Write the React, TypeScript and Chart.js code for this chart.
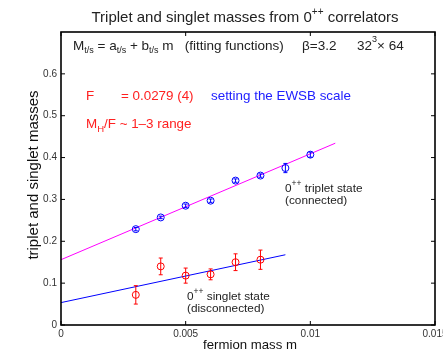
import React, { useEffect, useRef } from "react";
import { Chart, registerables } from "chart.js";
Chart.register(...registerables);

const massT = [0.003, 0.004, 0.005, 0.006, 0.007, 0.008, 0.009, 0.01];
const triplet = [0.229, 0.257, 0.285, 0.297, 0.345, 0.357, 0.375, 0.407];
const tripletErr = [0.004, 0.003, 0.004, 0.004, 0.004, 0.004, 0.011, 0.006];
const massS = [0.003, 0.004, 0.005, 0.006, 0.007, 0.008];
const singlet = [0.072, 0.14, 0.118, 0.121, 0.15, 0.156];
const singletErr = [0.022, 0.02, 0.018, 0.013, 0.02, 0.023];
// fit M = a + b m, drawn over [0, end]
const tripletFit = [0.156, 25.3, 0.011];
const singletFit = [0.0535, 12.7, 0.009];
const xTicks = [0, 0.005, 0.01, 0.015];
const yTicks = [0, 0.1, 0.2, 0.3, 0.4, 0.5, 0.6];

const FONT = "'Liberation Sans', Arial, Helvetica, sans-serif";

type Part = { t: string; size?: number; dy?: number; color?: string };
function drawRich(ctx: CanvasRenderingContext2D, x: number, y: number, parts: Part[], measureOnly = false) {
  let cx = x;
  for (const p of parts) {
    ctx.font = `${p.size ?? 13.5}px ${FONT}`;
    if (!measureOnly) {
      ctx.fillStyle = p.color ?? "#222";
      ctx.fillText(p.t, cx, y + (p.dy ?? 0));
    }
    cx += ctx.measureText(p.t).width;
  }
  return cx - x;
}

const overlay = {
  id: "overlay",
  afterDatasetsDraw(chart: any) {
    const { ctx, chartArea: a, scales } = chart;
    const xs = scales.x, ys = scales.y;
    ctx.save();
    // error bars
    const bars = (m: number[], v: number[], e: number[], color: string) => {
      ctx.strokeStyle = color;
      ctx.lineWidth = 1;
      m.forEach((mm, i) => {
        const px = xs.getPixelForValue(mm);
        const y1 = ys.getPixelForValue(v[i] - e[i]);
        const y2 = ys.getPixelForValue(v[i] + e[i]);
        ctx.beginPath();
        ctx.moveTo(px, y1); ctx.lineTo(px, y2);
        ctx.moveTo(px - 2, y1); ctx.lineTo(px + 2, y1);
        ctx.moveTo(px - 2, y2); ctx.lineTo(px + 2, y2);
        ctx.stroke();
      });
    };
    bars(massT, triplet, tripletErr, "#0000ff");
    bars(massS, singlet, singletErr, "#ff0000");

    // box
    ctx.strokeStyle = "#000";
    ctx.lineWidth = 1.6;
    ctx.strokeRect(a.left, a.top, a.right - a.left, a.bottom - a.top);
    // inward ticks
    ctx.lineWidth = 1;
    ctx.beginPath();
    xTicks.forEach((t) => {
      const px = xs.getPixelForValue(t);
      ctx.moveTo(px, a.bottom); ctx.lineTo(px, a.bottom - 4);
      ctx.moveTo(px, a.top); ctx.lineTo(px, a.top + 4);
    });
    yTicks.forEach((t) => {
      const py = ys.getPixelForValue(t);
      ctx.moveTo(a.left, py); ctx.lineTo(a.left + 4, py);
      ctx.moveTo(a.right, py); ctx.lineTo(a.right - 4, py);
    });
    ctx.stroke();

    ctx.textBaseline = "middle";
    ctx.textAlign = "left";
    // title
    const titleParts: Part[] = [
      { t: "Triplet and singlet masses from 0", size: 15 },
      { t: "++", size: 10, dy: -6 },
      { t: " correlators", size: 15 },
    ];
    const tw = drawRich(ctx, 0, 0, titleParts, true);
    drawRich(ctx, 245 - tw / 2, 18, titleParts);

    // fit line label
    const sub = (t: string): Part => ({ t, size: 9, dy: 5 });
    drawRich(ctx, 73, 46, [
      { t: "M" }, sub("t/s"), { t: " = a" }, sub("t/s"), { t: " + b" }, sub("t/s"),
      { t: " m   (fitting functions)" },
    ]);
    drawRich(ctx, 302, 46, [{ t: "\u03b2=3.2" }]);
    drawRich(ctx, 357, 46, [{ t: "32" }, { t: "3", size: 9, dy: -6 }, { t: "\u00d7 64" }]);

    const RED = "#ff2020", BLUE = "#2020ff";
    drawRich(ctx, 86, 96, [{ t: "F", size: 13.4, color: RED }]);
    drawRich(ctx, 121, 96, [{ t: "= 0.0279 (4)", size: 13.4, color: RED }]);
    drawRich(ctx, 211, 96, [{ t: "setting the EWSB scale", size: 13.4, color: BLUE }]);
    drawRich(ctx, 86, 124, [
      { t: "M", size: 13.4, color: RED },
      { t: "H", size: 9.5, dy: 5, color: RED },
      { t: "/F ~ 1\u20133 range", size: 13.4, color: RED },
    ]);

    drawRich(ctx, 285, 189, [{ t: "0", size: 11.8 }, { t: "++", size: 8.5, dy: -5 }, { t: " triplet state", size: 11.8 }]);
    drawRich(ctx, 285, 201, [{ t: "(connected)", size: 11.8 }]);
    drawRich(ctx, 187, 297, [{ t: "0", size: 11.8 }, { t: "++", size: 8.5, dy: -5 }, { t: " singlet state", size: 11.8 }]);
    drawRich(ctx, 187, 309, [{ t: "(disconnected)", size: 11.8 }]);

    // axis titles
    ctx.font = `13.2px ${FONT}`;
    ctx.fillStyle = "#111";
    ctx.textAlign = "center";
    ctx.fillText("fermion mass m", 250, 345);
    ctx.save();
    ctx.translate(34, 175);
    ctx.rotate(-Math.PI / 2);
    ctx.font = `15px ${FONT}`;
    ctx.fillText("triplet and singlet masses", 0, 0);
    ctx.restore();
    ctx.restore();
  },
};

export default function App() {
  const ref = useRef<HTMLCanvasElement>(null);
  useEffect(() => {
    document.body.style.margin = "0";
    const line = (f: number[]) => [
      { x: 0, y: f[0] },
      { x: f[2], y: f[0] + f[1] * f[2] },
    ];
    const chart = new Chart(ref.current!, {
      type: "scatter",
      data: {
        datasets: [
          {
            data: line(tripletFit), showLine: true, borderColor: "#ff00ff", borderWidth: 1,
            pointRadius: 0, order: 2,
          },
          {
            data: line(singletFit), showLine: true, borderColor: "#0000ff", borderWidth: 1,
            pointRadius: 0, order: 2,
          },
          {
            data: massT.map((m, i) => ({ x: m, y: triplet[i] })),
            borderColor: "#0000ff", backgroundColor: "transparent", pointRadius: 3.5,
            pointBorderWidth: 1, order: 1,
          },
          {
            data: massS.map((m, i) => ({ x: m, y: singlet[i] })),
            borderColor: "#ff0000", backgroundColor: "transparent", pointRadius: 3.5,
            pointBorderWidth: 1, order: 1,
          },
        ],
      } as any,
      options: {
        responsive: false,
        animation: false,
        devicePixelRatio: 1,
        layout: { padding: { left: 0, right: 8, top: 32, bottom: 0 } },
        plugins: { legend: { display: false }, tooltip: { enabled: false }, title: { display: false } },
        scales: {
          x: {
            type: "linear", min: 0, max: 0.015,
            grid: { display: false, drawTicks: false },
            border: { display: false },
            afterBuildTicks: (s: any) => { s.ticks = xTicks.map((v) => ({ value: v })); },
            ticks: {
              padding: 3, color: "#333", font: { size: 10, family: FONT },
              maxRotation: 0, autoSkip: false,
              callback: (v: any) => String(Number(v)),
            },
            afterFit: (s: any) => { s.height = 27; s.paddingLeft = 0; s.paddingRight = 0; },
          },
          y: {
            type: "linear", min: 0, max: 0.7,
            grid: { display: false, drawTicks: false },
            border: { display: false },
            afterBuildTicks: (s: any) => { s.ticks = yTicks.map((v) => ({ value: v })); },
            ticks: {
              padding: 4, color: "#333", font: { size: 10, family: FONT }, autoSkip: false,
              callback: (v: any) => String(Math.round(Number(v) * 10) / 10),
            },
            afterFit: (s: any) => { s.width = 61; s.paddingTop = 0; s.paddingBottom = 0; },
          },
        },
      } as any,
      plugins: [overlay],
    });
    return () => chart.destroy();
  }, []);
  return <canvas ref={ref} width={443} height={352} style={{ display: "block", width: 443, height: 352 }} />;
}
